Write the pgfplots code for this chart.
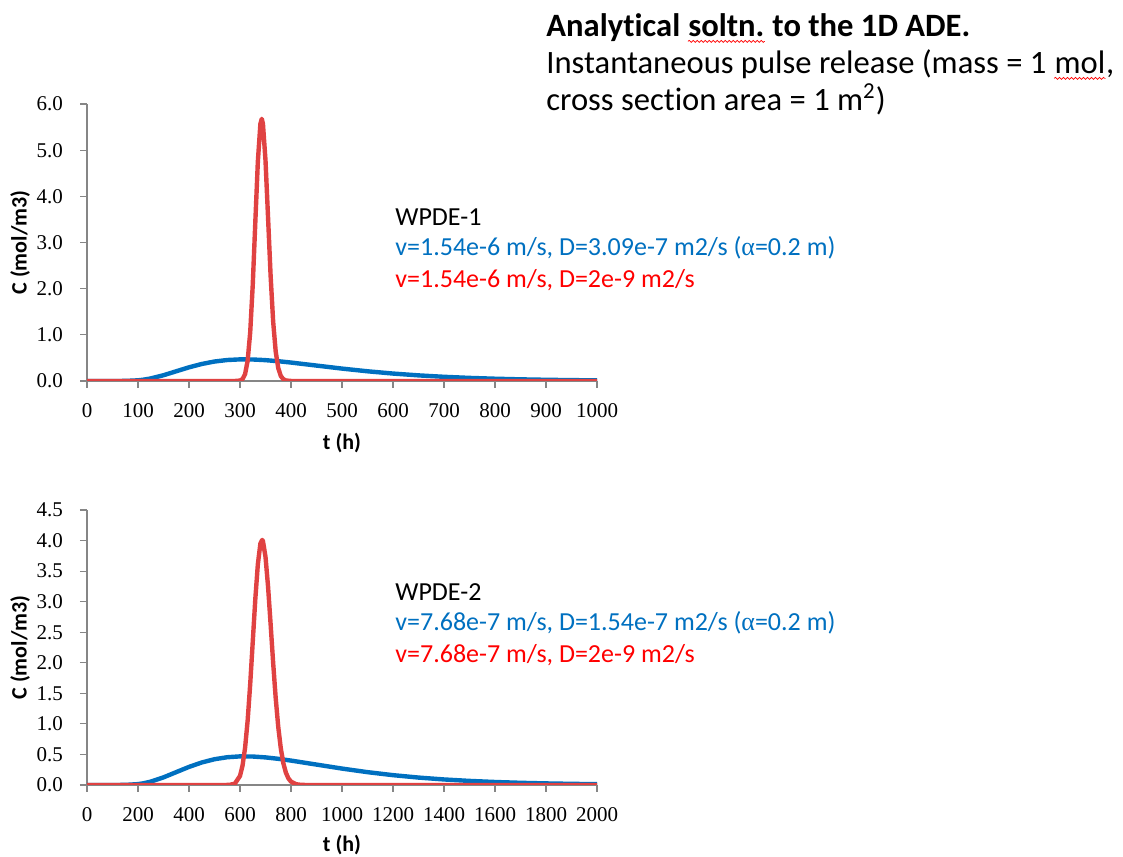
\documentclass[border=0pt]{standalone}
\usepackage{pgfplots}
\pgfplotsset{compat=1.18}
\usetikzlibrary{decorations.pathmorphing}
\usepackage{fontspec}
\setmainfont{Carlito}[Ligatures=NoCommon]
\newfontfamily\tickfont{Liberation Serif}
\definecolor{cblue}{RGB}{0,112,192}
\definecolor{cred}{RGB}{224,66,66}
\definecolor{tred}{RGB}{255,0,0}
\definecolor{axgray}{RGB}{134,134,134}

% word with a red spell-check squiggle under it
\newcommand{\squig}[1]{\tikz[baseline=(w.base)]{\node[inner sep=0pt](w){#1};
  \draw[red, line width=0.35pt, decorate, decoration={snake, amplitude=0.5pt, segment length=2pt}]
    ([yshift=-2.2pt]w.base west) -- ([yshift=-2.2pt]w.base east);}}
\newcommand{\alf}{{\tickfont α}}

\pgfplotstableread{
t C
0 0
50 0.0000
75 0.0013
100 0.0145
110 0.0269
125 0.0551
150 0.1249
175 0.2107
200 0.2960
225 0.3685
250 0.4218
275 0.4545
300 0.4682
325 0.4660
350 0.4516
375 0.4285
400 0.3996
450 0.3341
500 0.2687
550 0.2102
600 0.1611
650 0.1216
700 0.0907
750 0.0670
800 0.0492
850 0.0358
900 0.0260
950 0.0188
1000 0.0135
}\blueA

\pgfplotstableread{
t C
0 0
280 0
290 0.0002
300 0.0092
305 0.0416
310 0.1501
315 0.4393
320 1.0524
325 2.0822
330 3.4322
335 4.7530
340 5.5716
342.7 5.6790
345 5.5690
350 4.7788
355 3.5434
360 2.2841
365 1.2873
370 0.6380
375 0.2793
380 0.1086
385 0.0377
390 0.0117
400 0.0008
410 0
1000 0
}\redA

\pgfplotstableread{
t C
0 0
100 0.0000
150 0.0013
200 0.0145
220 0.0269
250 0.0551
300 0.1249
350 0.2107
400 0.2960
450 0.3685
500 0.4218
550 0.4545
600 0.4682
650 0.4660
700 0.4516
750 0.4285
800 0.3996
900 0.3341
1000 0.2687
1100 0.2102
1200 0.1611
1300 0.1216
1400 0.0907
1500 0.0670
1600 0.0492
1700 0.0358
1800 0.0260
1900 0.0188
2000 0.0135
}\blueB

\pgfplotstableread{
t C
0 0
540 0
560 0.0021
580 0.0227
600 0.1485
610 0.3184
620 0.6109
630 1.0554
640 1.6496
650 2.3435
660 3.0394
670 3.6124
680 3.9508
687.2 4.0105
690 3.9902
700 3.7341
710 3.2486
720 2.6354
730 1.9990
740 1.4219
750 0.9507
760 0.5991
770 0.3566
780 0.2009
790 0.1074
800 0.0546
820 0.0122
840 0.0023
860 0
2000 0
}\redB

\pgfplotsset{
  adeaxis/.style={
    scale only axis, width=255pt,
    axis x line*=bottom, axis y line*=left,
    axis line style={axgray, line width=0.6pt},
    tick style={axgray, line width=0.6pt},
    tick align=outside, major tick length=3.5pt,
    xmin=0, ymin=0,
    /pgf/number format/assume math mode=true,
    ticklabel style={font=\tickfont\fontsize{10.5}{12}\selectfont},
    xticklabel style={yshift=-4pt},
    yticklabel style={xshift=-5pt, /pgf/number format/.cd, fixed, fixed zerofill, precision=1},
    xticklabel style={/pgf/number format/.cd, fixed, 1000 sep={}},
    label style={font=\bfseries\fontsize{11}{13}\selectfont},
    ylabel={C (mol/m3)}, xlabel={t (h)},
    every axis plot/.append style={line width=2.2pt, line join=round, no marks},
  }
}

\begin{document}
\begin{tikzpicture}
\path[use as bounding box] (0,0) rectangle (561.5pt,428pt);

\begin{axis}[adeaxis, at={(43.5pt,237.5pt)}, anchor=origin,
  height=138.5pt, xmax=1000, ymax=6,
  xtick={0,100,...,1000}, ytick={0,1,...,6},
  ylabel style={at={(axis description cs:-0.131,0.5)}, anchor=center},
  xlabel style={at={(axis description cs:0.5,-0.224)}, anchor=center}]
\addplot[cblue] table[x=t,y=C] {\blueA};
\addplot[cred] table[x=t,y=C] {\redA};
\end{axis}

\begin{axis}[adeaxis, at={(43.5pt,35.5pt)}, anchor=origin,
  height=137.5pt, xmax=2000, ymax=4.5,
  xtick={0,200,...,2000}, ytick={0,0.5,...,4.5},
  ylabel style={at={(axis description cs:-0.131,0.5)}, anchor=center},
  xlabel style={at={(axis description cs:0.5,-0.218)}, anchor=center}]
\addplot[cblue] table[x=t,y=C] {\blueB};
\addplot[cred] table[x=t,y=C] {\redB};
\end{axis}

\begin{scope}[every node/.style={inner sep=0pt, anchor=base west}]
\node[font=\bfseries\fontsize{16.3}{19}\selectfont] at (273pt,409.5pt) {Analytical \squig{soltn.} to the 1D ADE.};
\node[font=\fontsize{16.3}{19}\selectfont] at (273pt,391pt) {Instantaneous pulse release (mass = 1 \squig{mol},};
\node[font=\fontsize{16.3}{19}\selectfont] at (273pt,372.5pt) {cross section area = 1 m\textsuperscript{2})};

\node[font=\fontsize{13}{15}\selectfont] at (197.5pt,315pt) {WPDE-1};
\node[font=\fontsize{13}{15}\selectfont, text=cblue] at (197.5pt,300pt) {v=1.54e-6 m/s, D=3.09e-7 m2/s (\alf=0.2 m)};
\node[font=\fontsize{13}{15}\selectfont, text=tred] at (197.5pt,284pt) {v=1.54e-6 m/s, D=2e-9 m2/s};

\node[font=\fontsize{13}{15}\selectfont] at (197.5pt,127.5pt) {WPDE-2};
\node[font=\fontsize{13}{15}\selectfont, text=cblue] at (197.5pt,112.5pt) {v=7.68e-7 m/s, D=1.54e-7 m2/s (\alf=0.2 m)};
\node[font=\fontsize{13}{15}\selectfont, text=tred] at (197.5pt,96.5pt) {v=7.68e-7 m/s, D=2e-9 m2/s};
\end{scope}
\end{tikzpicture}
\end{document}
